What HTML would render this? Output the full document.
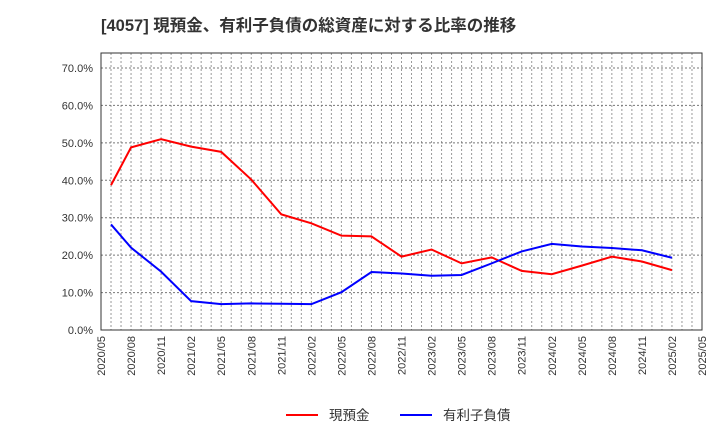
<!DOCTYPE html>
<html><head><meta charset="utf-8"><style>
body{margin:0;background:#fff;font-family:"Liberation Sans","Noto Sans CJK JP",sans-serif;}
svg text{font-family:"Liberation Sans","Noto Sans CJK JP",sans-serif;}
</style></head><body>
<svg id="c" width="720" height="440">
<text x="101" y="31" font-size="16.5" font-weight="bold" fill="#333">[4057]  現預金、有利子負債の総資産に対する比率の推移</text>
</svg>
<script>
const months=[1,3,6,9,12,15,18,21,24,27,30,33,36,39,42,45,48,51,54,57,60,63];
const cashVals=[38.7,48.8,51.0,49.0,47.6,40.2,30.9,28.5,25.2,25.0,19.6,21.5,17.8,19.4,15.8,14.9,17.2,19.6,18.3,16.0];
const debtVals=[28.2,22.0,15.6,7.7,6.9,7.1,7.0,6.9,10.1,15.5,15.1,14.5,14.7,17.8,21.0,23.0,22.3,21.9,21.3,19.3];
const yTicks=[0,10,20,30,40,50,60,70];
const xTickLabels=["2020/05","2020/08","2020/11","2021/02","2021/05","2021/08","2021/11","2022/02","2022/05","2022/08","2022/11","2023/02","2023/05","2023/08","2023/11","2024/02","2024/05","2024/08","2024/11","2025/02","2025/05"];
const L=101,R=702,T=53,B=330;
const NS="http://www.w3.org/2000/svg",svg=document.getElementById('c');
const xs=m=>L+(R-L)*m/60, ys=v=>B-v*(B-68)/70;
function mk(t,a,p){const e=document.createElementNS(NS,t);for(const k in a)e.setAttribute(k,a[k]);(p||svg).appendChild(e);return e;}
for(let m=1;m<60;m++){const g=mk('line',{x1:xs(m),x2:xs(m),y1:T,y2:B,stroke:'#999','stroke-dasharray':'2,2','stroke-width':1});

}
yTicks.forEach(v=>{if(v>0){const g=mk('line',{x1:L,x2:R,y1:ys(v),y2:ys(v),stroke:'#777','stroke-dasharray':'2,2'});

}
const t=mk('text',{x:L-8,y:ys(v)+4,'text-anchor':'end','font-size':11,fill:'#333'});t.textContent=v.toFixed(1)+'%';

});
xTickLabels.forEach((s,i)=>{const x=xs(i*3);const t=mk('text',{transform:`translate(${x+4},${B+6}) rotate(-90)`,'text-anchor':'end','font-size':11,fill:'#333'});t.textContent=s;

});
const fr=mk('rect',{x:L,y:T,width:R-L,height:B-T,fill:'none',stroke:'#333'});


function line(vals,col,name){const pts=vals.map((v,i)=>xs(months[i])+','+ys(v)).join(' ');
const p=mk('polyline',{points:pts,fill:'none',stroke:col,'stroke-width':2});

}
line(cashVals,'#f00','cash-line');
line(debtVals,'#00f','debt-line');
function leg(x,col,label,name){const g=mk('g',{});


mk('line',{x1:x,x2:x+32,y1:415,y2:415,stroke:col,'stroke-width':2},g);
const t=mk('text',{x:x+43,y:420,'font-size':13.5,fill:'#333'},g);t.textContent=label;}
leg(286,'#f00','現預金','legend-cash');
leg(400,'#00f','有利子負債','legend-debt');
</script>
</body></html>
